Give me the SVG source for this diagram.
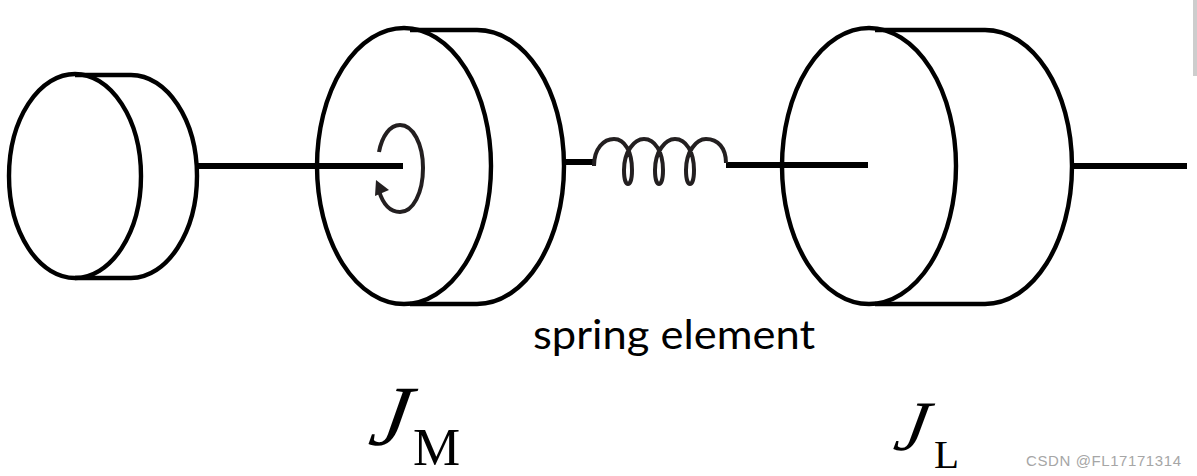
<svg xmlns="http://www.w3.org/2000/svg" width="1197" height="476" viewBox="0 0 1197 476">
<style>
.o{fill:none;stroke:#000;stroke-width:4.4}
.s{fill:none;stroke:#000;stroke-width:6}
.c{fill:none;stroke:#231f20;stroke-width:4}
.j{font-family:"Liberation Serif",serif;font-style:italic;fill:#000}
.u{font-family:"Liberation Serif",serif;fill:#000}
</style>
<rect width="1197" height="476" fill="#fff"/>
<rect x="1193" y="0" width="4" height="76" fill="#cdcdcd"/>
<g id="connectors">
<path class="s" d="M197 166H403"/>
<path class="s" d="M564 162H593"/>
<path class="s" d="M726 165H868"/>
<path class="s" d="M1072 166H1187"/>
<path id="spring" class="c" d="M594 166C594 148 604 139 614 139C625 139 632 152 632 170C632 180 630 184 628 184C626 184 624 180 624 170C624 152 634 139 644 139C655 139 663 152 663 170C663 180 661 184 659 184C657 184 655 180 655 170C655 152 665 139 675 139C686 139 694 152 694 170C694 180 692 184 690 184C688 184 686 180 686 170C686 152 696 139 706 139C718 139 726 148 726 163"/>
</g>
<g id="small-disc">
<ellipse class="o" cx="75" cy="176" rx="66" ry="102"/>
<path class="o" d="M75 75H131C167 75 197 120 197 176C197 232 167 278 131 278H75"/>
</g>
<g id="motor-disc">
<ellipse class="o" cx="404" cy="166" rx="87" ry="138"/>
<path class="o" d="M410 30H477C525 30 564 90 564 166C564 242 525 304 477 304H410"/>
<path class="c" d="M379 152C382 136 390 125 400 125C413 125 423 144 423 168C423 193 413 212 400 212C390 212 383 204 379 191"/>
<polygon points="376,180 375,196 389,190" fill="#231f20"/>
</g>
<g id="load-disc">
<ellipse class="o" cx="869" cy="166" rx="87" ry="138"/>
<path class="o" d="M875 30H985C1033 30 1072 90 1072 166C1072 242 1033 304 985 304H875"/>
</g>
<g id="labels">
<text x="533" y="349" font-family="Lato,sans-serif" font-size="40" textLength="282" lengthAdjust="spacingAndGlyphs" fill="#000">spring element</text>
<text class="j" font-size="86" transform="translate(367 445) skewX(-10)">J</text>
<text class="u" x="413" y="465" font-size="53">M</text>
<text class="j" font-size="71" transform="translate(892 450) skewX(-11)">J</text>
<text class="u" x="934" y="468" font-size="41">L</text>
<text x="1026" y="466" font-family="Liberation Sans,sans-serif" font-size="15" textLength="155" fill="#a6a6a6">CSDN @FL17171314</text>
</g>
</svg>
